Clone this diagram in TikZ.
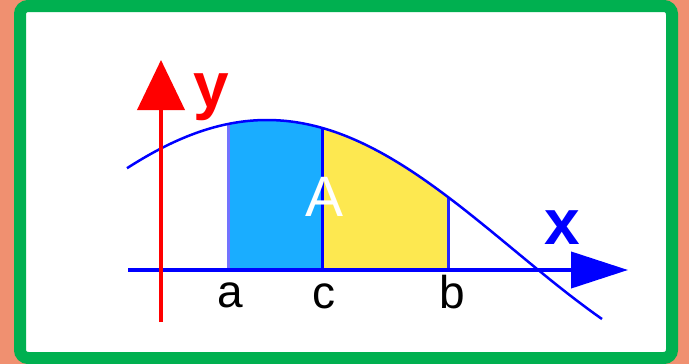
\documentclass[tikz,border=0pt]{standalone}
\usepackage{fontspec}
\setmainfont{Liberation Sans}
\usetikzlibrary{arrows.meta}
\definecolor{salmonbg}{RGB}{240,144,112}
\definecolor{framegreen}{RGB}{0,176,80}
\definecolor{areablue}{RGB}{26,173,255}
\definecolor{areayellow}{RGB}{253,232,80}

\begin{document}
\begin{tikzpicture}[>=Stealth, x=1pt, y=-1pt,
    lbl/.style={inner sep=0pt, font=\fontsize{46}{46}\selectfont},
    axlbl/.style={inner sep=0pt, font=\fontsize{64}{64}\selectfont\bfseries},
    edge/.style={line width=3pt},
    axis/.style={line width=4pt},
    curvedom/.style={domain=127:602, samples=120}]
  % Frame
  \useasboundingbox (0,0) rectangle (689,364);
  \fill[salmonbg] (0,0) rectangle (689,364);
  \draw[framegreen, line width=12pt, fill=white, rounded corners=8pt]
    (20,6) rectangle (672,358);

  % Areas under the curve
  \begin{scope}
    \clip plot[curvedom] (\x, {120+130*(1-cos(0.3644*(\x-267)))})
      -- (602,400) -- (127,400) -- cycle;
    \fill[areablue]   (228,100) rectangle (322,270);
    \fill[areayellow] (322,100) rectangle (448,270);
    \draw[edge, blue!55] (228,100) -- (228,270);
    \draw[edge, blue]    (322,100) -- (322,270);
    \draw[edge, blue!85] (448,100) -- (448,270);
  \end{scope}

  % Curve
  \draw[blue, line width=2.5pt] plot[curvedom] (\x, {120+130*(1-cos(0.3644*(\x-267)))});

  % Axes
  \coordinate (yfoot) at (161,322);
  \coordinate (ytip)  at (161,60);
  \coordinate (xfoot) at (128,270);
  \coordinate (xtip)  at (628,270);
  \draw[axis, blue, -{Triangle[length=57pt,width=36pt]}] (xfoot) -- (xtip);
  \draw[axis, red, -{Triangle[length=50pt,width=47pt]}]  (yfoot) -- (ytip);

  % Labels
  \node[lbl] (a) at (230,295) {a};
  \node[lbl] (c) at (324,296) {c};
  \node[lbl] (b) at (452,292) {b};
  \node[axlbl, blue] (xl) at (562,228) {x};
  \node[axlbl, red]  (yl) at (211,97)  {y};
  \node[inner sep=0pt, white, font=\fontsize{57}{57}\selectfont] (A) at (325,197) {A};
\end{tikzpicture}
\end{document}
